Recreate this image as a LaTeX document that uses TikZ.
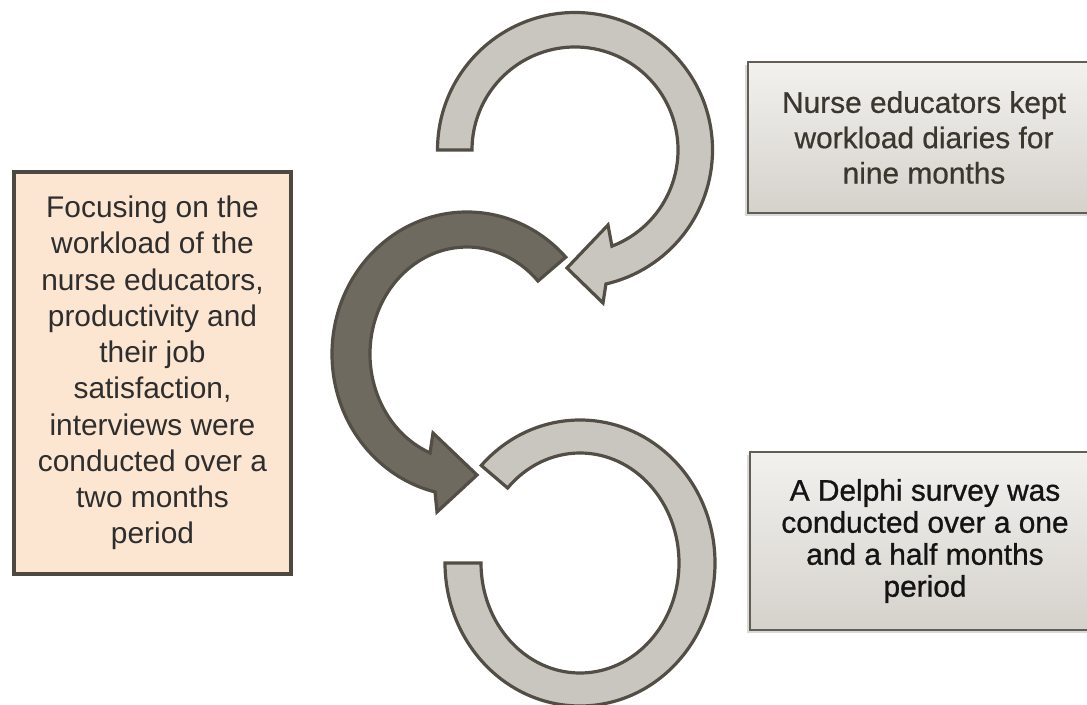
\documentclass[tikz,border=0pt]{standalone}
\usepackage{fontspec}
\setmainfont{Liberation Sans}
\newfontfamily\panelfont[FakeBold=0.6]{Liberation Sans}
\newfontfamily\panelfontheavy[FakeBold=0.9]{Liberation Sans}
\usetikzlibrary{calc,shadows}

\definecolor{ringlight}{HTML}{C9C6BF}
\definecolor{ringdark}{HTML}{6E6A5F}
\definecolor{ringedge}{HTML}{524E45}
\definecolor{peach}{HTML}{FCE6D1}
\definecolor{boxedge}{HTML}{4D4940}
\definecolor{panelTop}{HTML}{F2F1EE}
\definecolor{panelBot}{HTML}{D5D2CC}
\definecolor{paneledge}{HTML}{625E55}
\definecolor{txtleft}{HTML}{2E2E2E}
\definecolor{txtgray}{HTML}{3A372F}

\begin{document}
\begin{tikzpicture}[x=0.75pt,y=-0.75pt,
  ring/.style={line width=2.4pt, draw=ringedge, line join=miter},
  lightring/.style={ring, fill=ringlight},
  darkring/.style={ring, fill=ringdark},
  notebox/.style={rectangle, draw=boxedge, line width=3.5pt, fill=peach,
    align=center, text=txtleft, inner sep=0pt,
    font=\fontsize{22.4}{27.2}\selectfont},
  panel/.style={rectangle, draw=paneledge, line width=1.4pt,
    top color=panelTop, bottom color=panelBot, align=center, inner sep=0pt,
    drop shadow={shadow xshift=-2.5pt, shadow yshift=-2.5pt, opacity=0.3}}
]
\useasboundingbox (0,0) rectangle (1087,705);
\clip (0,0) rectangle (1087,705);

% centres of the three ring arrows
\coordinate (cTop) at (575,150);
\coordinate (cMid) at (467,354);
\coordinate (cBot) at (580,563);

% upper ring: clockwise arrow ending at lower left
\draw[lightring]
  ($(cTop)+(180:137.5)$) arc[start angle=180, end angle=437, radius=137.5]
  -- (603,303) -- (567,268) -- (608,225)
  -- ($(cTop)+(429:103)$) arc[start angle=429, end angle=180, radius=103]
  -- cycle;

% middle ring: counter-clockwise dark arrow
\draw[darkring]
  ($(cMid)+({135*cos(-43)},{142*sin(-43)})$)
    arc[start angle=-43, end angle=-256.3, x radius=135, y radius=142]
  -- (437,512) -- (477,475) -- (433,433)
  -- ($(cMid)+({97*cos(-247.6)},{107*sin(-247.6)})$)
    arc[start angle=-247.6, end angle=-43, x radius=97, y radius=107]
  -- cycle;

% lower ring: open band without a head
\draw[lightring]
  ($(cBot)+({135*cos(223)},{143*sin(223)})$)
    arc[start angle=223, end angle=540, x radius=135, y radius=143]
  -- ($(cBot)+({99*cos(540)},{110*sin(540)})$)
    arc[start angle=540, end angle=223, x radius=99, y radius=110]
  -- cycle;

% text boxes
\node[notebox, minimum width=207.75pt, minimum height=301.5pt] (method) at (152.5,373)
  {Focusing on the\\workload of the\\nurse educators,\\productivity and\\their job\\satisfaction,\\interviews were\\conducted over a\\two months\\period};

\node[panel, minimum width=264pt, minimum height=113.25pt, text=txtgray,
  font=\panelfont\fontsize{22.4}{26.5}\selectfont] (diaries) at (924,137.5)
  {Nurse educators kept\\workload diaries for\\nine months};

\node[panel, minimum width=262.5pt, minimum height=133.5pt, text=black!92,
  font=\panelfontheavy\fontsize{22.4}{24}\selectfont] (delphi) at (925,541)
  {A Delphi survey was\\conducted over a one\\and a half months\\period};
\end{tikzpicture}
\end{document}
